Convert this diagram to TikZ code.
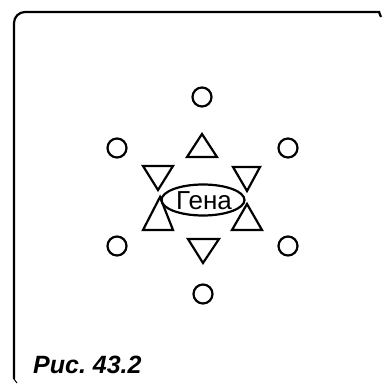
\documentclass[tikz,border=0pt]{standalone}
\usepackage{fontspec}
\setmainfont{Liberation Sans}
\usetikzlibrary{shapes.geometric}
\begin{document}
\begin{tikzpicture}[x=1pt,y=-1pt,
  ring/.style={draw,circle,line width=2.2pt,minimum size=19pt,inner sep=0pt},
  tri/.style={line width=2.2pt,line join=miter}]
\useasboundingbox (0,0) rectangle (383,385);
% frame
\draw[line width=2.2pt,rounded corners=11pt] (14,379) -- (14,12) -- (380,12);
\draw[line width=2.2pt] (379,12) -- (381,17);
\draw[line width=1pt] (14,379) -- (17,383);
% circles
\node[ring] (ct) at (202,97) {};
\node[ring] (cul) at (117,148) {};
\node[ring] (cur) at (288,148) {};
\node[ring] (cll) at (117,246) {};
\node[ring] (clr) at (288,246) {};
\node[ring] (cb) at (203,294) {};
% triangles
\draw[tri] (202,134) -- (217,157) -- (187,157) -- cycle;
\draw[tri] (143,166) -- (173,166) -- (158,190) -- cycle;
\draw[tri] (160,197) -- (173,230) -- (143,230) -- cycle;
\draw[tri] (233,167) -- (260,167) -- (247,191) -- cycle;
\draw[tri] (247,204) -- (262,230) -- (232,230) -- cycle;
\draw[tri] (188,239) -- (219,239) -- (203,263) -- cycle;
% center
\node[draw,ellipse,line width=2.2pt,minimum width=83pt,minimum height=31pt,inner sep=0pt] (gena) at (203,200) {};
\node[font=\fontsize{26}{28}\selectfont] (genat) at (204,201) {Гена};
% caption
\node[anchor=base west,inner sep=0pt,font=\fontsize{25}{27}\selectfont\itshape\bfseries] (cap) at (33,373) {Рис.\ 43.2};
\end{tikzpicture}
\end{document}
